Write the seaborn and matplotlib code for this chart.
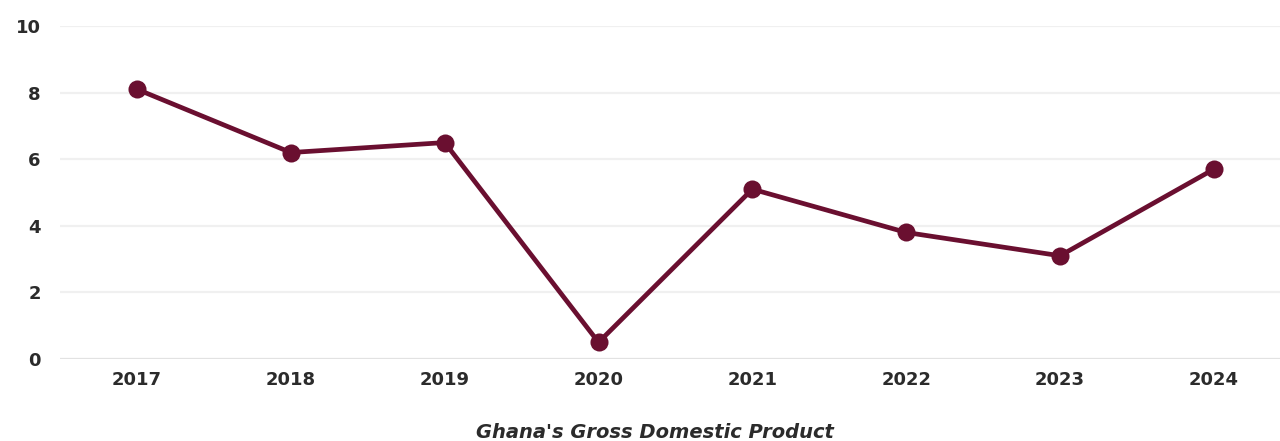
import matplotlib
matplotlib.use("Agg")
import matplotlib.pyplot as plt
import seaborn as sns
import pandas as pd

years = ["2017", "2018", "2019", "2020", "2021", "2022", "2023", "2024"]
gdp_growth = [8.1, 6.2, 6.5, 0.5, 5.1, 3.8, 3.1, 5.7]
y_ticks = [0, 2, 4, 6, 8, 10]
title = "Ghana's Gross Domestic Product"

sns.set_theme(style="white")
plt.rcParams['font.family'] = ['DejaVu Sans']

df = pd.DataFrame({"year": years, "gdp": gdp_growth})

fig = plt.figure(figsize=(12.8, 4.41), dpi=100)
ax = fig.add_axes([0.047, 0.186, 0.953, 0.755])

color = "#6A0F30"
sns.lineplot(data=df, x="year", y="gdp", ax=ax, color=color, linewidth=3.4,
             marker="o", markersize=13, markeredgewidth=0, sort=False, clip_on=False)

ax.set_xlim(-0.5, 7.43)
ax.set_ylim(0, 10)
ax.set_yticks(y_ticks)
ax.set_yticklabels([str(t) for t in y_ticks])
for y in y_ticks:
    ax.axhline(y, color="#e2e2e2" if y == 0 else "#f0f0f0", linewidth=1.6, zorder=0)
for s in ax.spines.values():
    s.set_visible(False)
ax.grid(False)
ax.set_xlabel("")
ax.set_ylabel("")
ax.tick_params(axis="both", length=0, labelsize=13, colors="#2b2b2b")
ax.tick_params(axis="x", pad=9)
ax.tick_params(axis="y", pad=14)
for lab in ax.get_xticklabels() + ax.get_yticklabels():
    lab.set_fontweight("bold")

fig.text(0.512, 0.02, title, ha="center", va="center", fontsize=14,
         fontstyle="italic", fontweight="bold", color="#2b2b2b")

fig.savefig("out.png", dpi=100, facecolor="white")
